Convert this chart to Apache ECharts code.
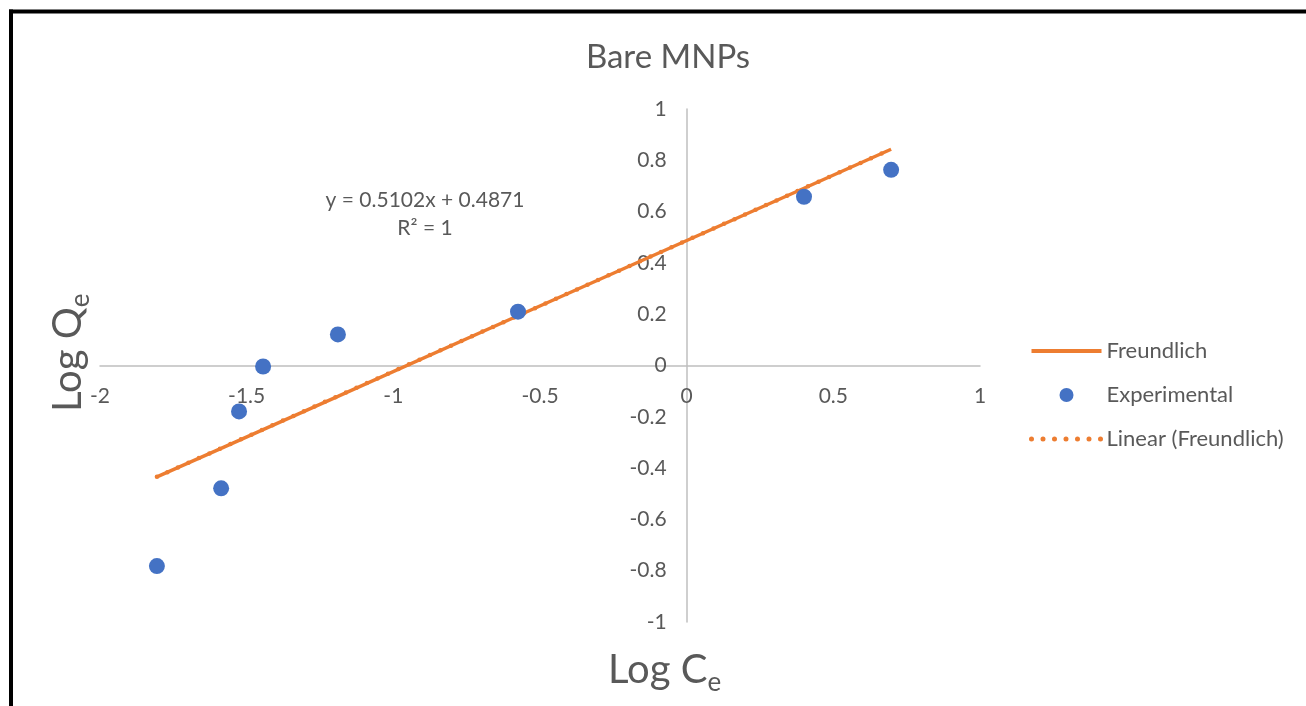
<!DOCTYPE html>
<html>
<head>
<meta charset="utf-8">
<script src="https://cdn.jsdelivr.net/npm/echarts@6/dist/echarts.min.js"></script>
<style>
  html, body { margin: 0; padding: 0; background: #fff; }
  #chart { width: 1306px; height: 706px; }
</style>
</head>
<body>
<div id="chart"></div>
<script>
// log Ce values
var logCe = [-1.806, -1.587, -1.526, -1.444, -1.189, -0.575, 0.400, 0.697]
// log Qe experimental
var logQeExp = [-0.782, -0.479, -0.179, -0.004, 0.121, 0.210, 0.658, 0.763]
// Freundlich model values (y = 0.5102x + 0.4871 at each point)
var logQeModel = [-0.434, -0.323, -0.292, -0.250, -0.120, 0.194, 0.691, 0.843]
// trendline end points
var trendX = [-1.806, 0.697]
var trendY = [-0.434, 0.843]

var FONT = 'Lato'
var GRAY = '#595959'
var ORANGE = '#ED7D31'
var BLUE = '#4472C4'

// plot box in px
var G = { left: 100, right: 326, top: 109, bottom: 84 }
var plotW = 1306 - G.left - G.right
var plotH = 706 - G.top - G.bottom

function pairs (xs, ys) {
  return xs.map(function (x, i) { return [x, ys[i]] })
}

var chart = echarts.init(document.getElementById('chart'))
chart.setOption({
  animation: false,
  title: {
    text: 'Bare MNPs',
    left: 663,
    top: 36,
    textAlign: 'center',
    textStyle: { fontFamily: FONT, fontSize: 33, fontWeight: 'normal', color: GRAY }
  },
  legend: {
    orient: 'vertical',
    left: 1024,
    top: 335,
    itemWidth: 70,
    itemHeight: 14,
    itemGap: 22,
    textStyle: { fontFamily: FONT, fontSize: 22, color: GRAY },
    data: [
      { name: 'Freundlich', itemStyle: { opacity: 0 }, lineStyle: { width: 4 } },
      'Experimental',
      { name: 'Linear (Freundlich)', itemStyle: { opacity: 0 }, lineStyle: { width: 5 } }
    ]
  },
  grid: G,
  xAxis: {
    type: 'value',
    min: -2,
    max: 1,
    interval: 0.5,
    // move the axis up to y = 0
    offset: -plotH / 2,
    axisLine: { onZero: false, lineStyle: { color: '#BFBFBF', width: 1.5 } },
    axisTick: { show: false },
    splitLine: { show: false },
    axisLabel: { fontFamily: FONT, fontSize: 21, color: GRAY, margin: 20 }
  },
  yAxis: {
    type: 'value',
    min: -1,
    max: 1,
    interval: 0.2,
    // move the axis right to x = 0
    offset: -plotW * 2 / 3,
    axisLine: { onZero: false, lineStyle: { color: '#BFBFBF', width: 1.5 } },
    axisTick: { show: false },
    splitLine: { show: false },
    axisLabel: {
      fontFamily: FONT, fontSize: 21, color: GRAY, margin: 20,
      formatter: function (v) { return String(Math.round(v * 10) / 10) }
    }
  },
  series: [
    {
      name: 'Freundlich',
      type: 'line',
      data: pairs(logCe, logQeModel),
      symbol: 'none',
      lineStyle: { color: ORANGE, width: 3.5 },
      itemStyle: { color: ORANGE },
      z: 2
    },
    {
      name: 'Experimental',
      type: 'scatter',
      data: pairs(logCe, logQeExp),
      symbolSize: 16,
      itemStyle: { color: BLUE, opacity: 1 },
      z: 4
    },
    {
      name: 'Linear (Freundlich)',
      type: 'line',
      data: pairs(trendX, trendY),
      symbol: 'none',
      lineStyle: { color: ORANGE, width: 4.5, type: [0, 11.5], cap: 'round' },
      itemStyle: { color: ORANGE },
      z: 3
    }
  ],
  graphic: [
    {
      type: 'line',
      shape: { x1: 9, y1: 11.5, x2: 1306, y2: 11.5 },
      style: { stroke: '#000', lineWidth: 4 }
    },
    {
      type: 'line',
      shape: { x1: 11, y1: 9.5, x2: 11, y2: 706 },
      style: { stroke: '#000', lineWidth: 4 }
    },
    {
      type: 'text',
      x: 425,
      y: 186,
      style: {
        text: 'y = 0.5102x + 0.4871\nR² = 1',
        align: 'center',
        fontFamily: FONT, fontSize: 21, lineHeight: 28, fill: GRAY
      }
    },
    {
      type: 'text',
      x: 608,
      y: 644,
      style: {
        text: '{a|Log C}{b|e}',
        fontFamily: FONT,
        rich: {
          a: { fontFamily: FONT, fontSize: 40, fill: GRAY, lineHeight: 52, verticalAlign: 'middle' },
          b: { fontFamily: FONT, fontSize: 26, fill: GRAY, lineHeight: 52, verticalAlign: 'bottom' }
        }
      }
    },
    {
      type: 'text',
      x: 42,
      y: 412,
      rotation: Math.PI / 2,
      style: {
        text: '{a|Log Q}{b|e}',
        fontFamily: FONT,
        rich: {
          a: { fontFamily: FONT, fontSize: 40, fill: GRAY, lineHeight: 52, verticalAlign: 'middle' },
          b: { fontFamily: FONT, fontSize: 26, fill: GRAY, lineHeight: 52, verticalAlign: 'bottom' }
        }
      }
    }
  ]
})
</script>
</body>
</html>
